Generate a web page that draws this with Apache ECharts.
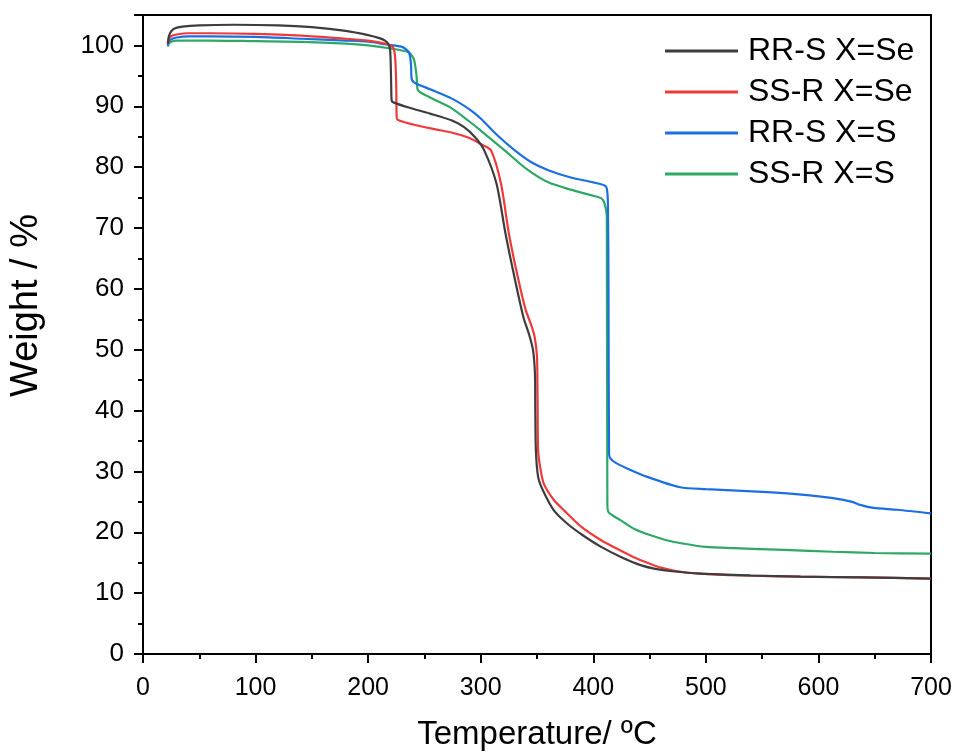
<!DOCTYPE html>
<html>
<head>
<meta charset="utf-8">
<script src="https://cdn.jsdelivr.net/npm/echarts@6/dist/echarts.min.js"></script>
<style>
html,body{margin:0;padding:0;background:#fff;}
#chart{width:957px;height:756px;}
</style>
</head>
<body>
<div id="chart"></div>
<script>
// ---- data ----
const seriesNames = ['RR-S X=Se', 'SS-R X=Se', 'RR-S X=S', 'SS-R X=S'];
const xTicks = [0, 100, 200, 300, 400, 500, 600, 700];
const yTicks = [0, 10, 20, 30, 40, 50, 60, 70, 80, 90, 100];

const tempRRSe = [22, 23, 25, 28, 35, 50, 80, 120, 150, 180, 200, 210, 215, 218, 219.5, 220.2, 220.6, 221, 223, 236, 255, 274, 285, 295, 303, 314, 322, 330, 338, 343, 346.5, 348.2, 348.5, 349, 351, 355, 365, 377, 390, 407, 425, 442, 455, 470, 495, 540, 584, 640, 700];
const weightRRSe = [100.3, 101.5, 102.3, 102.8, 103.1, 103.3, 103.4, 103.3, 103.0, 102.4, 101.7, 101.2, 100.8, 100.2, 99.3, 96, 92, 90.9, 90.6, 89.8, 88.8, 87.7, 86.6, 84.9, 82.8, 77.3, 69.1, 61.9, 55.3, 52.5, 49.9, 46, 40, 33.5, 29.1, 27, 23.6, 21.4, 19.6, 17.6, 15.9, 14.6, 14.0, 13.6, 13.2, 12.9, 12.7, 12.6, 12.4];

const tempSSRSe = [22, 23, 25, 30, 40, 60, 100, 141, 180, 200, 215, 222, 224, 225, 225.3, 226, 240, 260, 274, 290, 300, 309, 318, 325, 333, 340, 345, 348, 350, 350.5, 351, 353, 356, 365, 374, 390, 407, 422, 435, 448, 460, 475, 495, 530, 584, 640, 700];
const weightSSRSe = [100.2, 101.0, 101.5, 101.8, 102.0, 102.0, 101.9, 101.6, 101.1, 100.8, 100.3, 99.7, 98, 93, 88.5, 87.8, 87.0, 86.2, 85.7, 84.8, 83.8, 82.8, 77.3, 69.1, 61.9, 56.5, 54, 52, 48.8, 42, 33.5, 30.5, 28, 25.3, 23.6, 20.8, 18.7, 17.2, 16.0, 15.0, 14.2, 13.6, 13.2, 12.9, 12.7, 12.6, 12.4];

const tempRRS = [22, 23, 25, 30, 40, 60, 100, 141, 180, 200, 215, 229.5, 234, 236.6, 238, 238.4, 239, 242, 255, 274, 290, 300, 315, 330, 345, 360, 380, 400, 410, 412, 413, 413.5, 414, 415, 420, 430, 448, 477, 500, 555, 590, 613, 630, 637, 649, 670, 700];
const weightRRS = [100.0, 100.6, 101.0, 101.3, 101.5, 101.5, 101.4, 101.1, 100.8, 100.6, 100.2, 99.8, 99.3, 98.7, 97, 95, 94.3, 93.8, 92.8, 91.3, 89.5, 88, 85.2, 82.8, 80.8, 79.5, 78.3, 77.5, 77, 76.5, 74, 60, 33, 32.2, 31.4, 30.5, 29.1, 27.4, 27.1, 26.6, 26.1, 25.6, 25, 24.5, 24, 23.7, 23.1];

const tempSSRS = [22, 23, 25, 30, 40, 60, 100, 141, 180, 200, 220, 235.7, 239, 241, 243, 243.7, 244.5, 248, 260, 274, 290, 300, 321, 340, 360, 380, 400, 407, 410, 412, 412.5, 414, 424, 437, 451, 465, 478, 500, 525, 570, 613, 650, 700];
const weightSSRS = [99.8, 100.3, 100.6, 100.8, 100.8, 100.8, 100.7, 100.6, 100.3, 100.0, 99.5, 98.9, 98.3, 97.5, 95, 93, 92.6, 92.1, 91, 89.7, 87.5, 86, 82.8, 79.8, 77.5, 76.3, 75.3, 74.9, 74, 72, 24.5, 23.2, 22, 20.5, 19.5, 18.7, 18.2, 17.6, 17.4, 17.1, 16.8, 16.6, 16.5];

const colors = ['#3d3d3d', '#f03a3a', '#1c6fe3', '#2ea865'];

function zip(xs, ys) { return xs.map((x, i) => [x, ys[i]]); }
const allData = [zip(tempRRSe, weightRRSe), zip(tempSSRSe, weightSSRSe), zip(tempRRS, weightRRS), zip(tempSSRS, weightSSRS)];

const chart = echarts.init(document.getElementById('chart'), null, {renderer: 'canvas'});
const FONT = 'Liberation Sans, Arial, sans-serif';

chart.setOption({
  animation: false,
  backgroundColor: '#fff',
  color: colors,
  grid: {left: 139, right: 26, top: 15, bottom: 102, show: true, borderColor: '#000', borderWidth: 2, backgroundColor: 'transparent'},
  legend: {
    orient: 'vertical', left: 660, top: 30,
    icon: 'rect', itemWidth: 73, itemHeight: 3, itemGap: 9,
    textStyle: {fontFamily: FONT, fontSize: 32, color: '#000', lineHeight: 32, padding: [0, 0, 0, 5]},
    data: seriesNames
  },
  xAxis: {
    type: 'value', min: 0, max: 700, interval: 100,
    name: 'Temperature/ ºC', nameLocation: 'middle', nameGap: 64,
    nameTextStyle: {fontFamily: FONT, fontSize: 33, color: '#000'},
    axisLine: {show: true, onZero: false, lineStyle: {color: '#000', width: 2}},
    axisTick: {show: true, inside: false, length: 9, lineStyle: {color: '#000', width: 2}},
    minorTick: {show: true, splitNumber: 2, length: 5, lineStyle: {color: '#000', width: 2}},
    axisLabel: {fontFamily: FONT, fontSize: 25, color: '#000', margin: 22,
      formatter: v => xTicks.includes(v) ? String(v) : ''},
    splitLine: {show: false}
  },
  yAxis: {
    type: 'value', min: 0, max: 105, interval: 10,
    name: 'Weight / %', nameLocation: 'middle', nameGap: 97,
    nameTextStyle: {fontFamily: FONT, fontSize: 38, color: '#000', padding: [0, 0, 0, 58]},
    axisLine: {show: true, onZero: false, lineStyle: {color: '#000', width: 2}},
    axisTick: {show: true, inside: false, length: 9, lineStyle: {color: '#000', width: 2}},
    minorTick: {show: true, splitNumber: 2, length: 5, lineStyle: {color: '#000', width: 2}},
    axisLabel: {fontFamily: FONT, fontSize: 26, color: '#000', margin: 19, showMaxLabel: false,
      formatter: v => yTicks.includes(v) ? String(v) : ''},
    splitLine: {show: false}
  },
  series: seriesNames.map((n, i) => ({
    name: n, type: 'line', data: allData[i], symbol: 'none', smooth: 0.25,
    lineStyle: {color: colors[i], width: 2.2}, itemStyle: {color: colors[i]}, z: 4 - i
  }))
});
</script>
</body>
</html>
